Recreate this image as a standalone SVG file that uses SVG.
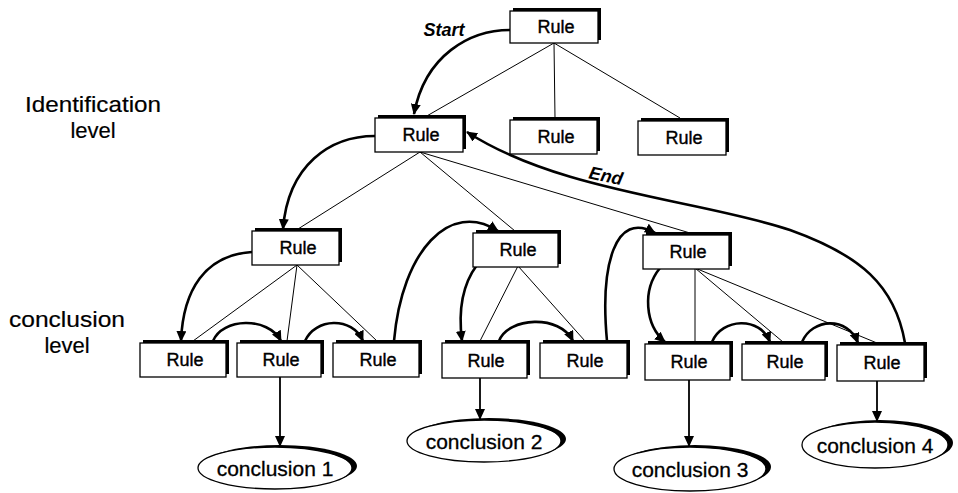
<svg xmlns="http://www.w3.org/2000/svg" width="958" height="493" viewBox="0 0 958 493">
<style>
.sh{fill:#000}
.bx{fill:#fff;stroke:#000;stroke-width:1.3}
.t{font-family:"Liberation Sans",Arial,sans-serif;font-size:18px;fill:#000;stroke:#000;stroke-width:0.4;text-anchor:middle}
.ct{font-family:"Liberation Sans",Arial,sans-serif;font-size:21px;fill:#000;stroke:#000;stroke-width:0.3;text-anchor:middle}
.lv{font-family:"Liberation Sans",Arial,sans-serif;font-size:22px;fill:#000;stroke:#000;stroke-width:0.2;text-anchor:middle}
.lb{font-family:"Liberation Sans",Arial,sans-serif;font-size:18px;font-weight:bold;font-style:italic;fill:#000;text-anchor:middle}
.thin{fill:none;stroke:#000;stroke-width:1}
.thick{fill:none;stroke:#000;stroke-width:2.6;marker-end:url(#ah)}
.ar{fill:none;stroke:#000;stroke-width:1.8;marker-end:url(#ah)}
</style>
<defs>
<marker id="ah" markerUnits="userSpaceOnUse" markerWidth="11" markerHeight="10" refX="10" refY="5" orient="auto">
<path d="M0,0 L11,5 L0,10 z" fill="#000"/>
</marker>
</defs>
<rect width="958" height="493" fill="#fff"/>

<g id="labels">
<text class="lv" x="93" y="112" textLength="136" lengthAdjust="spacingAndGlyphs">Identification</text>
<text class="lv" x="93" y="138">level</text>
<text class="lv" x="67" y="327" textLength="116" lengthAdjust="spacingAndGlyphs">conclusion</text>
<text class="lv" x="67" y="353">level</text>
<text class="lb" x="444" y="36">Start</text>
<text class="lb" x="606" y="182" transform="rotate(12 606 176)">End</text>
</g>

<g id="connectors">
<path class="thin" d="M554,43 L425,117"/>
<path class="thin" d="M554,43 L555,118"/>
<path class="thin" d="M554,43 L680,118"/>
<path class="thin" d="M420,152 L298,229"/>
<path class="thin" d="M420,152 L515,231"/>
<path class="thin" d="M420,152 L690,233"/>
<path class="thin" d="M297,265 L193,341"/>
<path class="thin" d="M297,265 L287,341"/>
<path class="thin" d="M297,265 L377,341"/>
<path class="thin" d="M518,266 L480,341"/>
<path class="thin" d="M518,266 L585,341"/>
<path class="thin" d="M695,268 L695,342"/>
<path class="thin" d="M695,268 L783,342"/>
<path class="thin" d="M695,268 L877,343"/>

<path class="thick" d="M510,30 C470,30 425,55 414,114"/>
<path class="thick" d="M375,136 C330,136 288,165 283,229"/>
<path class="thick" d="M252,252 C205,255 183,290 181,341"/>
<path class="thick" d="M213,341 C222,318 268,316 281,341"/>
<path class="thick" d="M305,341 C315,318 352,316 363,341"/>
<path class="thick" d="M394,341 C402,250 450,200 498,231"/>
<path class="thick" d="M477,265 C462,285 458,310 462,341"/>
<path class="thick" d="M499,341 C508,317 560,314 573,341"/>
<path class="thick" d="M607,341 C600,265 615,210 655,233"/>
<path class="thick" d="M660,268 C642,290 645,325 665,342"/>
<path class="thick" d="M712,342 C722,318 760,316 770,342"/>
<path class="thick" d="M802,342 C812,318 848,316 858,343"/>
<path class="thick" d="M905,343 C895,285 860,255 790,230 C700,200 560,192 467,132"/>

<path class="ar" d="M280,377 L280,446"/>
<path class="ar" d="M480,378 L480,419"/>
<path class="ar" d="M689,380 L689,446"/>
<path class="ar" d="M877,381 L877,421"/>
</g>

<g id="r0"><rect class="sh" x="513" y="8" width="88" height="32"/><rect class="bx" x="510" y="11" width="88" height="32"/><text class="t" x="556" y="33">Rule</text></g>
<g id="r1"><rect class="sh" x="378" y="115" width="88" height="34"/><rect class="bx" x="375" y="118" width="88" height="34"/><text class="t" x="421" y="141">Rule</text></g>
<g id="r2"><rect class="sh" x="513" y="117" width="87" height="34"/><rect class="bx" x="510" y="120" width="87" height="34"/><text class="t" x="556" y="143">Rule</text></g>
<g id="r3"><rect class="sh" x="641" y="118" width="88" height="34"/><rect class="bx" x="638" y="121" width="88" height="34"/><text class="t" x="684" y="144">Rule</text></g>
<g id="r4"><rect class="sh" x="255" y="228" width="87" height="34"/><rect class="bx" x="252" y="231" width="87" height="34"/><text class="t" x="298" y="254">Rule</text></g>
<g id="r5"><rect class="sh" x="476" y="230" width="85" height="34"/><rect class="bx" x="473" y="233" width="85" height="34"/><text class="t" x="518" y="256">Rule</text></g>
<g id="r6"><rect class="sh" x="646" y="232" width="86" height="34"/><rect class="bx" x="643" y="235" width="86" height="34"/><text class="t" x="688" y="258">Rule</text></g>
<g id="r7"><rect class="sh" x="143" y="340" width="86" height="34"/><rect class="bx" x="140" y="343" width="86" height="34"/><text class="t" x="185" y="366">Rule</text></g>
<g id="r8"><rect class="sh" x="240" y="340" width="84" height="34"/><rect class="bx" x="237" y="343" width="84" height="34"/><text class="t" x="281" y="366">Rule</text></g>
<g id="r9"><rect class="sh" x="336" y="340" width="86" height="34"/><rect class="bx" x="333" y="343" width="86" height="34"/><text class="t" x="378" y="366">Rule</text></g>
<g id="r10"><rect class="sh" x="445" y="340" width="85" height="35"/><rect class="bx" x="442" y="343" width="85" height="35"/><text class="t" x="486" y="367">Rule</text></g>
<g id="r11"><rect class="sh" x="543" y="340" width="87" height="35"/><rect class="bx" x="540" y="343" width="87" height="35"/><text class="t" x="585" y="367">Rule</text></g>
<g id="r12"><rect class="sh" x="648" y="341" width="85" height="36"/><rect class="bx" x="645" y="344" width="85" height="36"/><text class="t" x="689" y="368">Rule</text></g>
<g id="r13"><rect class="sh" x="745" y="341" width="83" height="36"/><rect class="bx" x="742" y="344" width="83" height="36"/><text class="t" x="785" y="368">Rule</text></g>
<g id="r14"><rect class="sh" x="840" y="342" width="87" height="36"/><rect class="bx" x="837" y="345" width="87" height="36"/><text class="t" x="882" y="369">Rule</text></g>

<g id="c1"><ellipse class="sh" cx="280" cy="466" rx="77" ry="21"/><ellipse class="bx" cx="275" cy="468" rx="77" ry="21"/><text class="ct" x="275" y="476">conclusion 1</text></g>
<g id="c2"><ellipse class="sh" cx="489" cy="439" rx="77" ry="21"/><ellipse class="bx" cx="484" cy="441" rx="77" ry="21"/><text class="ct" x="484" y="449">conclusion 2</text></g>
<g id="c3"><ellipse class="sh" cx="695" cy="467" rx="76" ry="22"/><ellipse class="bx" cx="690" cy="469" rx="76" ry="22"/><text class="ct" x="690" y="477">conclusion 3</text></g>
<g id="c4"><ellipse class="sh" cx="880" cy="443" rx="73" ry="23"/><ellipse class="bx" cx="875" cy="445" rx="73" ry="23"/><text class="ct" x="875" y="453">conclusion 4</text></g>
</svg>
